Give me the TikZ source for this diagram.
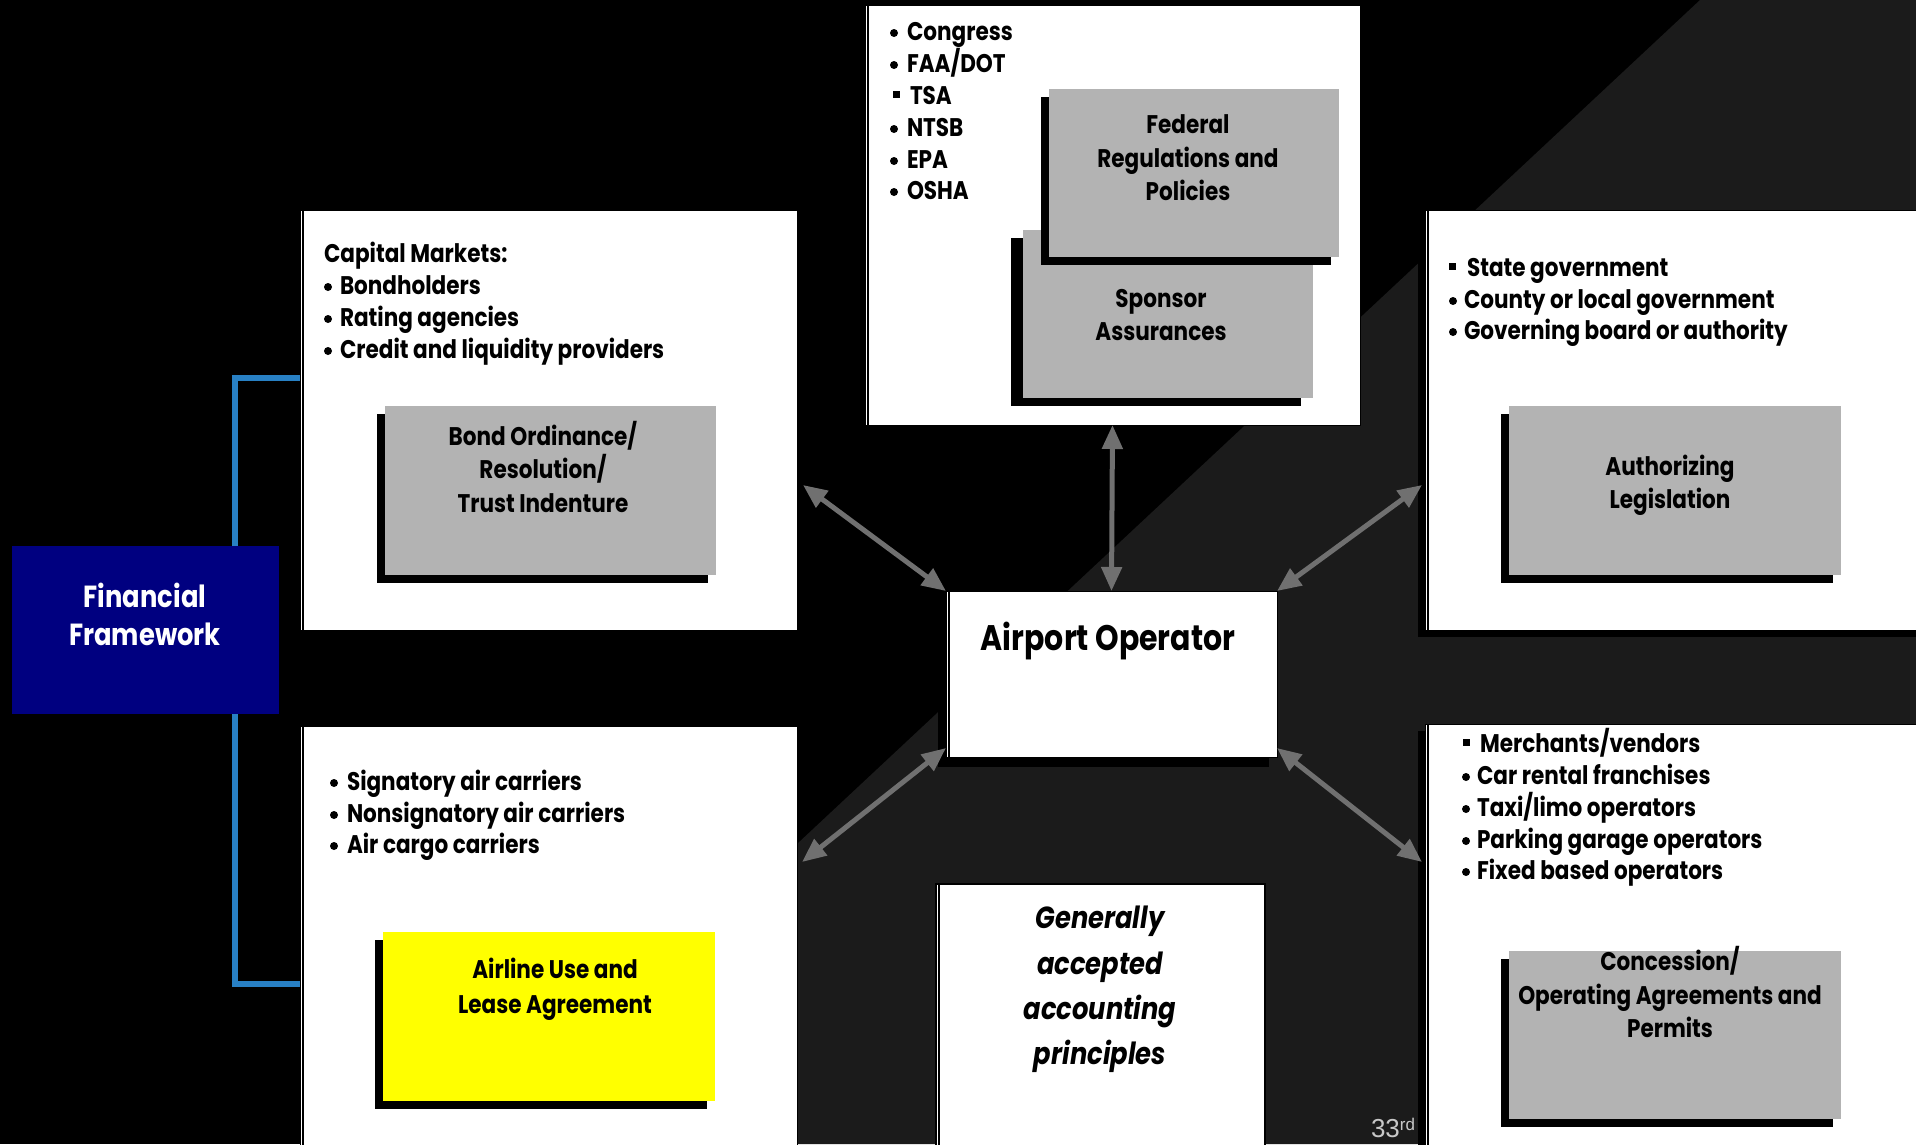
\documentclass[tikz,border=0pt]{standalone}
\usepackage{fontspec}
\setmainfont{Poppins}[FakeStretch=0.845]
\newfontfamily\arialf{Liberation Sans}
\usetikzlibrary{arrows.meta,shadows}
\definecolor{darkbg}{RGB}{27,27,27}
\definecolor{boxgray}{RGB}{179,179,179}
\definecolor{arrgray}{RGB}{112,112,112}
\definecolor{navyb}{RGB}{0,0,128}
\definecolor{bracketblue}{RGB}{40,128,196}
\definecolor{numgray}{RGB}{200,200,200}
\definecolor{ylwfill}{RGB}{255,255,0}
\newcommand\fz{\fontsize{25.5}{30}\selectfont\bfseries}
\tikzset{
  blkshadow/.style 2 args={drop shadow={shadow xshift=#1, shadow yshift=#2, fill=black, opacity=1}},
  panel/.style={fill=white, draw=black, line width=1pt, inner sep=0pt, outer sep=0pt, anchor=north west,
    path picture={\draw[black,line width=2pt] ([xshift=2.5pt]path picture bounding box.north west) -- ([xshift=2.5pt]path picture bounding box.south west);}},
  gbox/.style={fill=boxgray, inner sep=0pt, outer sep=0pt, anchor=north west, blkshadow={-8pt}{-8pt}},
  sbox/.style={fill=boxgray, inner sep=0pt, outer sep=0pt, anchor=north west, blkshadow={-12pt}{-8pt}},
  tl/.style={inner sep=0pt, outer sep=0pt, anchor=base west, font=\fz},
  tc/.style={inner sep=0pt, outer sep=0pt, anchor=base, font=\fz, align=center},
  dot/.style={circle, fill=black, inner sep=0pt, minimum size=8pt},
  sq/.style={rectangle, fill=black, inner sep=0pt, minimum size=7pt},
  arr/.style={draw=arrgray, line width=5pt, {Triangle[length=24pt,width=20pt]}-{Triangle[length=24pt,width=20pt]}},
  bracket/.style={draw=bracketblue, line width=6pt}
}
\newcommand\dotitem[5]{\node[dot] (#1b) at (#2,#4-7) {}; \node[tl] (#1) at (#3,#4) {#5};}
\newcommand\sqitem[5]{\node[sq] (#1b) at (#2,#4-10) {}; \node[tl] (#1) at (#3,#4) {#5};}
\begin{document}
\begin{tikzpicture}[x=1pt,y=-1pt]
\clip (0,0) rectangle (1916,1144);
\fill[black] (0,0) rectangle (1916,1144);
\fill[darkbg] (1700,0) -- (1916,0) -- (1916,1144) -- (476,1144) -- cycle;

% white panels
\node[panel, minimum width=497, minimum height=420] (cap) at (300,210) {};
\node[panel, minimum width=497, minimum height=440] (low) at (300,726) {};
\node[panel, minimum width=495, minimum height=420] (top) at (865,5) {};
\node[panel, blkshadow={-7pt}{-7pt}, minimum width=520, minimum height=420] (rtop) at (1425,210) {};
\node[panel, blkshadow={-7pt}{-7pt}, minimum width=520, minimum height=440] (rbot) at (1425,724) {};
\node[panel, blkshadow={-8pt}{-10pt}, minimum width=331, minimum height=166] (ao) at (946,591) {};
\node[panel, line width=2.5pt, minimum width=329, minimum height=280] (gaap) at (936,884) {};

% financial framework and bracket
\node[fill=navyb, inner sep=0pt, outer sep=0pt, anchor=north west, minimum width=267, minimum height=168] (fin) at (12,546) {};
\coordinate (bt) at (235,378);
\coordinate (bb) at (235,984);
\draw[bracket] (fin.north -| bt) -- (bt) -- (cap.west |- bt);
\draw[bracket] (fin.south -| bb) -- (bb) -- (low.west |- bb);

% gray boxes
\node[gbox, minimum width=331, minimum height=169] (bond) at (385,406) {};
\node[gbox, minimum width=332, minimum height=169] (auth) at (1509,406) {};
\node[gbox, minimum width=332, minimum height=168] (conc) at (1509,951) {};
\node[gbox, fill=ylwfill, minimum width=332, minimum height=169] (ylw) at (383,932) {};
\node[sbox, minimum width=290, minimum height=168] (spon) at (1023,230) {};
\node[gbox, minimum width=290, minimum height=168] (fed) at (1049,89) {};

% arrows
\coordinate (pul) at (803,485);
\coordinate (pur) at (1422,485);
\coordinate (pll) at (802,862);
\coordinate (plr) at (1422,862);
\draw[arr] (pul) -- (ao.north west);
\draw[arr] (pur) -- (ao.north east);
\draw[arr] (pll) -- ([yshift=9pt]ao.south west);
\draw[arr] (plr) -- ([yshift=9pt]ao.south east);
\draw[arr] (top.south) -- (ao.north);

% top box list
\dotitem{cg}{894}{907}{40}{Congress}
\dotitem{fa}{894}{907}{72}{FAA/DOT}
\sqitem{ts}{896}{910}{104}{TSA}
\dotitem{nt}{894}{907}{136}{NTSB}
\dotitem{ep}{894}{907}{168}{EPA}
\dotitem{os}{894}{907}{199}{OSHA}

% capital markets
\node[tl] (cmh) at (324,262) {Capital Markets:};
\dotitem{bh}{328}{340}{294}{Bondholders}
\dotitem{ra}{328}{340}{326}{Rating agencies}
\dotitem{cl}{328}{340}{358}{Credit and liquidity providers}

% right top
\sqitem{sg}{1452}{1467}{276}{State government}
\dotitem{cy}{1453}{1464}{308}{County or local government}
\dotitem{gb}{1453}{1464}{339}{Governing board or authority}

% lower left
\dotitem{sa}{334}{347}{790}{Signatory air carriers}
\dotitem{na}{334}{347}{822}{Nonsignatory air carriers}
\dotitem{ac}{334}{347}{853}{Air cargo carriers}

% lower right
\sqitem{mv}{1466}{1480}{752}{Merchants/vendors}
\dotitem{cr}{1466}{1477}{784}{Car rental franchises}
\dotitem{tx}{1466}{1477}{816}{Taxi/limo operators}
\dotitem{pg}{1466}{1477}{848}{Parking garage operators}
\dotitem{fb}{1466}{1477}{879}{Fixed based operators}

% box texts
\node[tc] (bo1) at (543,445) {Bond Ordinance/};
\node[tc] (bo2) at (543,478) {Resolution/};
\node[tc] (bo3) at (543,512) {Trust Indenture};
\node[tc] (au1) at (1670,475) {Authorizing};
\node[tc] (au2) at (1670,508) {Legislation};
\node[tc] (fe1) at (1188,133) {Federal};
\node[tc] (fe2) at (1188,167) {Regulations and};
\node[tc] (fe3) at (1188,200) {Policies};
\node[tc] (sp1) at (1161,307) {Sponsor};
\node[tc] (sp2) at (1161,340) {Assurances};
\node[tc, font=\fontsize{35.5}{38}\selectfont\bfseries] (aot) at (1108,650) {Airport Operator};
\node[tc, text=white, font=\fontsize{30.5}{34}\selectfont\bfseries] (fi1) at (145,607) {Financial};
\node[tc, text=white, font=\fontsize{30.5}{34}\selectfont\bfseries] (fi2) at (145,645) {Framework};
\node[tc] (yl1) at (555,978) {Airline Use and};
\node[tc] (yl2) at (555,1013) {Lease Agreement};
\node[tc, font=\fontsize{30.5}{34}\selectfont\bfseries\itshape] (ga1) at (1100,928) {Generally};
\node[tc, font=\fontsize{30.5}{34}\selectfont\bfseries\itshape] (ga2) at (1100,974) {accepted};
\node[tc, font=\fontsize{30.5}{34}\selectfont\bfseries\itshape] (ga3) at (1100,1019) {accounting};
\node[tc, font=\fontsize{30.5}{34}\selectfont\bfseries\itshape] (ga4) at (1100,1064) {principles};
\node[tc] (co1) at (1670,970) {Concession/};
\node[tc] (co2) at (1670,1004) {Operating Agreements and};
\node[tc] (co3) at (1670,1037) {Permits};
\node[inner sep=0pt, outer sep=0pt, anchor=base west, text=numgray, font=\arialf\fontsize{26}{26}\selectfont] (num) at (1371,1137) {33\raisebox{7pt}{\fontsize{17}{17}\selectfont rd}};
\end{tikzpicture}
\end{document}
